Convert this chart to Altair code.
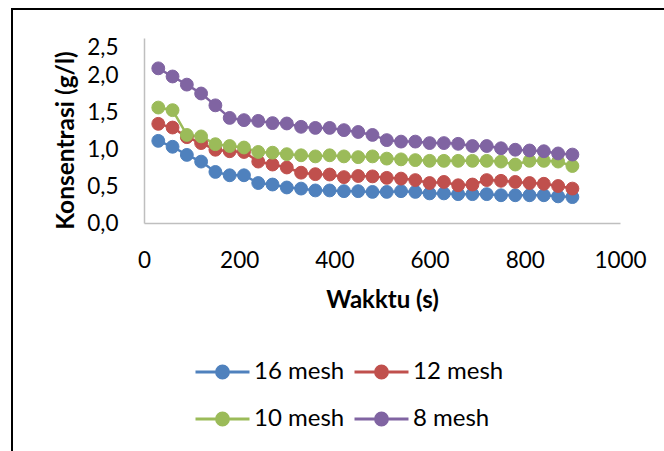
import altair as alt
import pandas as pd

# ---- data ----
time_s = [30, 60, 90, 120, 150, 180, 210, 240, 270, 300,
          330, 360, 390, 420, 450, 480, 510, 540, 570, 600,
          630, 660, 690, 720, 750, 780, 810, 840, 870, 900]

mesh16 = [1.11, 1.03, 0.92, 0.83, 0.69, 0.645, 0.645, 0.54, 0.52, 0.48,
          0.465, 0.44, 0.44, 0.43, 0.43, 0.42, 0.42, 0.43, 0.42, 0.40,
          0.40, 0.39, 0.39, 0.39, 0.375, 0.375, 0.375, 0.375, 0.36, 0.35]
mesh12 = [1.34, 1.29, 1.16, 1.08, 0.99, 0.97, 0.96, 0.83, 0.79, 0.75,
          0.68, 0.66, 0.655, 0.62, 0.635, 0.63, 0.61, 0.60, 0.58, 0.54,
          0.555, 0.51, 0.52, 0.58, 0.57, 0.555, 0.54, 0.53, 0.50, 0.465]
mesh10 = [1.56, 1.525, 1.19, 1.17, 1.065, 1.04, 1.02, 0.96, 0.95, 0.93,
          0.915, 0.90, 0.915, 0.90, 0.89, 0.90, 0.87, 0.86, 0.85, 0.84,
          0.84, 0.84, 0.84, 0.84, 0.83, 0.79, 0.84, 0.84, 0.83, 0.77]
mesh8 = [2.09, 1.98, 1.87, 1.75, 1.59, 1.42, 1.39, 1.38, 1.35, 1.345,
         1.30, 1.285, 1.285, 1.255, 1.23, 1.19, 1.12, 1.10, 1.10, 1.08,
         1.08, 1.07, 1.04, 1.04, 1.01, 0.99, 0.98, 0.97, 0.94, 0.925]

series_names = ["16 mesh", "12 mesh", "10 mesh", "8 mesh"]
series_values = [mesh16, mesh12, mesh10, mesh8]
series_colors = ["#4F81BD", "#C0504D", "#9BBB59", "#8064A2"]

x_ticks = [0, 200, 400, 600, 800, 1000]
y_ticks = [0, 0.5, 1.0, 1.5, 2.0, 2.5]

rows = []
for name, col, vals in zip(series_names, series_colors, series_values):
    for t, v in zip(time_s, vals):
        rows.append({"t": t, "c": v, "series": name, "col": col})
df = pd.DataFrame(rows)

FONT = "Lato"
W, H = 476, 185

color_scale = alt.Scale(domain=series_names, range=series_colors)

x_enc = alt.X(
    "t:Q",
    scale=alt.Scale(domain=[0, 1000], nice=False),
    axis=alt.Axis(
        values=x_ticks, title="Wakktu (s)", grid=False, ticks=False, tickSize=0,
        domainColor="#bfbfbf", domainWidth=1.5,
        labelFont=FONT, labelFontSize=22.5, labelColor="black",
        labelBaseline="alphabetic", labelPadding=44, labelFlush=False,
        labelOverlap=False, labelExpr="format(datum.value, 'd')",
        titleFont=FONT, titleFontSize=24, titleFontWeight="bold", titleColor="black",
        titleX=W / 2, titleY=84, titleBaseline="alphabetic", titleAlign="center",
    ),
)
y_enc = alt.Y(
    "c:Q",
    scale=alt.Scale(domain=[0, 2.5], nice=False),
    axis=alt.Axis(
        values=y_ticks, title="Konsentrasi (g/l)", grid=False, ticks=False, tickSize=0,
        domainColor="#bfbfbf", domainWidth=1.5,
        labelFont=FONT, labelFontSize=22.5, labelColor="black",
        labelBaseline="middle", labelAlign="right", labelPadding=26,
        labelFlush=False, labelOverlap=False,
        labelOffset={"condition": {"test": "datum.value === 2.5", "value": 9}, "value": 0},
        labelExpr="replace(format(datum.value, '.1f'), '.', ',')",
        titleFont=FONT, titleFontSize=24.5, titleFontWeight="bold", titleColor="black",
        titleX=-78, titleY=102, titleAlign="center", titleBaseline="middle",
    ),
)

legend_symbol = ("M-1,0L1,0M-0.22,0A0.22,0.22,0,1,0,0.22,0"
                 "A0.22,0.22,0,1,0,-0.22,0Z")
legend = alt.Legend(
    title=None, orient="none", legendX=50, legendY=322, direction="horizontal",
    columns=2, padding=0, columnPadding=8, rowPadding=23,
    symbolType=legend_symbol, symbolSize=2916, symbolStrokeWidth=3,
    clipHeight=24, labelOffset=3,
    labelFont=FONT, labelFontSize=24, labelColor="black", labelLimit=300,
)

base = alt.Chart(df)

lines = base.mark_line(strokeWidth=2.5).encode(
    x=x_enc, y=y_enc,
    stroke=alt.Stroke("col:N", scale=None),
    detail="series:N",
)
points = base.mark_point(filled=True, size=165, opacity=1, strokeWidth=1).encode(
    x=x_enc, y=y_enc,
    fill=alt.Fill("series:N", scale=color_scale, legend=legend),
    stroke=alt.Stroke("series:N", scale=color_scale, legend=legend),
)

frame = alt.Chart(alt.Data(values=[{}])).mark_rect(
    fill=None, stroke="black", strokeWidth=2
).encode(
    x=alt.value(-132), x2=alt.value(700), y=alt.value(-29), y2=alt.value(600)
)

chart = alt.layer(frame, lines, points).properties(
    width=W, height=H,
    autosize=alt.AutoSizeParams(type="none"),
    padding={"left": 144, "top": 38, "right": 44, "bottom": 228},
    background="white",
).configure_view(stroke=None)

chart.save("out.html", embed_options={"renderer": "svg", "actions": False})
